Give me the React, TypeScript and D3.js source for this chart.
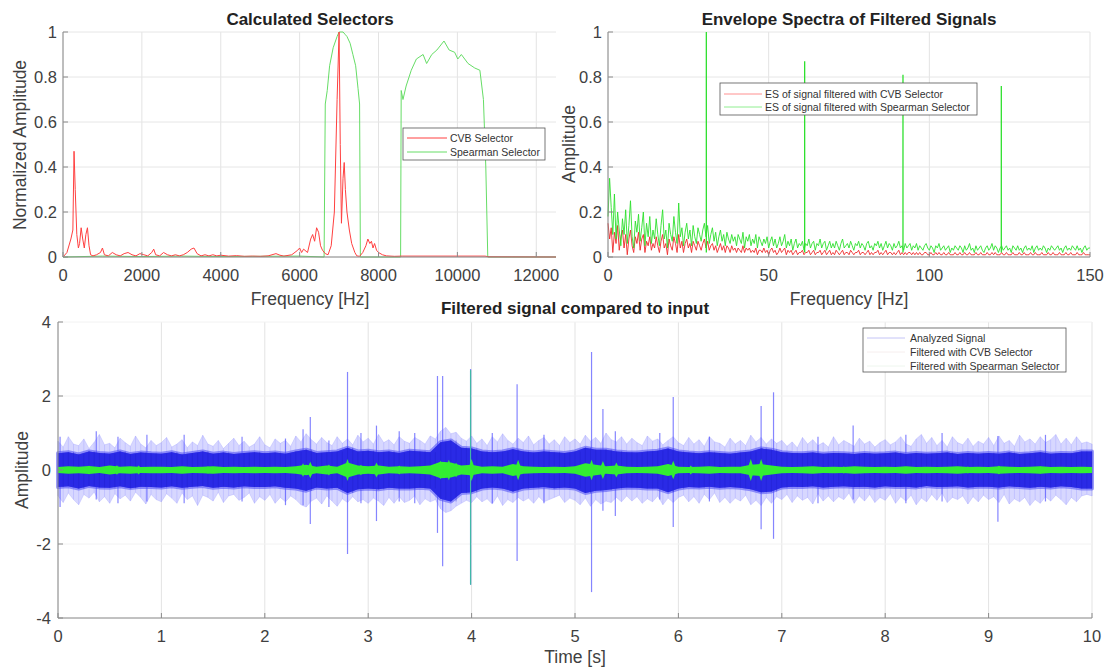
import React from "react";
import * as d3 from "d3";

const W = 1108;
const H = 672;
const font = "'Liberation Sans', Arial, Helvetica, sans-serif";

/* ---------- Calculated Selectors ---------- */
const selFreqTicks = [0, 2000, 4000, 6000, 8000, 10000, 12000];
const selAmpTicks = [0, 0.2, 0.4, 0.6, 0.8, 1];

const cvbSelector: [number, number][] = [
  [0, 0], [100, 0.02], [200, 0.08], [250, 0.12], [280, 0.47], [310, 0.3], [350, 0.1], [390, 0.04],
  [420, 0.06], [460, 0.13], [500, 0.08], [540, 0.04], [580, 0.1], [620, 0.13], [660, 0.05], [700, 0.01],
  [760, 0.005], [850, 0.01], [950, 0.02], [1000, 0.04], [1050, 0.01], [1150, 0.005], [1250, 0.02],
  [1350, 0.01], [1450, 0.005], [1550, 0.015], [1650, 0.02], [1750, 0.01], [1850, 0.005], [1950, 0.015],
  [2050, 0.01], [2150, 0.005], [2250, 0.02], [2300, 0.035], [2350, 0.01], [2450, 0.005], [2550, 0.02],
  [2650, 0.01], [2750, 0.005], [2850, 0.01], [2950, 0.005], [3050, 0.01], [3150, 0.02], [3250, 0.035],
  [3320, 0.04], [3400, 0.015], [3500, 0.005], [3600, 0.01], [3700, 0.005], [3800, 0.01], [3900, 0.005],
  [4000, 0.008], [4200, 0.004], [4400, 0.006], [4600, 0.003], [4800, 0.004], [5000, 0.003], [5200, 0.005],
  [5400, 0.015], [5500, 0.008], [5600, 0.004], [5800, 0.01], [5950, 0.03], [6000, 0.04], [6050, 0.02],
  [6100, 0.035], [6200, 0.02], [6280, 0.08], [6330, 0.1], [6380, 0.07], [6430, 0.13], [6480, 0.11],
  [6530, 0.05], [6580, 0.03], [6650, 0.015], [6720, 0.01], [6800, 0.05], [6880, 0.2], [6950, 0.7],
  [7000, 1.0], [7030, 0.5], [7060, 0.15], [7100, 0.35], [7130, 0.42], [7160, 0.3], [7200, 0.2],
  [7260, 0.12], [7320, 0.06], [7400, 0.02], [7450, 0.005], [7520, 0.003], [7600, 0.02], [7680, 0.05],
  [7730, 0.08], [7780, 0.06], [7820, 0.07], [7860, 0.04], [7900, 0.06], [7950, 0.03], [8000, 0.02],
  [8100, 0.01], [8200, 0.005], [8400, 0.003], [8600, 0.004], [10700, 0.004], [10800, 0.001], [12500, 0],
];

const spearmanSelector: [number, number][] = [
  [0, 0], [1000, 0.004], [2000, 0.002], [3000, 0.004], [4000, 0.002], [5000, 0.003], [6000, 0.004],
  [6620, 0], [6650, 0.68], [6700, 0.74], [6760, 0.85], [6850, 0.93], [6950, 0.98], [7000, 1.0],
  [7100, 1.0], [7150, 0.99], [7200, 0.98], [7280, 0.95], [7350, 0.9], [7420, 0.85], [7480, 0.75],
  [7520, 0.68], [7540, 0], [8560, 0], [8575, 0.74], [8620, 0.7], [8700, 0.76], [8830, 0.83],
  [8960, 0.88], [9130, 0.9], [9220, 0.86], [9350, 0.9], [9480, 0.92], [9660, 0.96], [9790, 0.92],
  [9930, 0.91], [10010, 0.88], [10100, 0.9], [10270, 0.86], [10440, 0.84], [10570, 0.83],
  [10660, 0.7], [10720, 0.4], [10770, 0], [12500, 0],
];

/* ---------- Envelope Spectra ---------- */
const esFreqTicks = [0, 50, 100, 150];
const esAmpTicks = [0, 0.2, 0.4, 0.6, 0.8, 1];
const esStep = 0.5; // Hz per value
const esSpearman = [
  0.18, 0.35, 0.22, 0.1, 0.28, 0.08, 0.2, 0.12, 0.05, 0.17,
  0.1, 0.21, 0.06, 0.14, 0.25, 0.09, 0.04, 0.16, 0.11, 0.19,
  0.07, 0.13, 0.2, 0.05, 0.15, 0.09, 0.18, 0.06, 0.12, 0.08,
  0.17, 0.1, 0.05, 0.14, 0.21, 0.08, 0.12, 0.04, 0.15, 0.1,
  0.07, 0.18, 0.11, 0.06, 0.24, 0.09, 0.13, 0.05, 0.11, 0.15,
  0.08, 0.12, 0.05, 0.14, 0.09, 0.06, 0.13, 0.1, 0.07, 0.12,
  0.15, 0.09, 0.14, 0.06, 0.1, 0.13, 0.07, 0.11, 0.05, 0.09,
  0.12, 0.07, 0.1, 0.05, 0.11, 0.08, 0.06, 0.1, 0.07, 0.09,
  0.05, 0.1, 0.08, 0.06, 0.11, 0.04, 0.09, 0.07, 0.1, 0.05,
  0.08, 0.06, 0.1, 0.04, 0.09, 0.07, 0.05, 0.08, 0.06, 0.09,
  0.04, 0.07, 0.09, 0.05, 0.08, 0.04, 0.06, 0.09, 0.05, 0.07,
  0.1, 0.04, 0.07, 0.05, 0.08, 0.03, 0.06, 0.08, 0.04, 0.06,
  0.05, 0.07, 0.03, 0.06, 0.05, 0.08, 0.04, 0.06, 0.07, 0.03,
  0.06, 0.05, 0.08, 0.04, 0.06, 0.07, 0.03, 0.05, 0.07, 0.04,
  0.06, 0.04, 0.07, 0.05, 0.03, 0.06, 0.08, 0.04, 0.05, 0.06,
  0.04, 0.07, 0.05, 0.03, 0.06, 0.05, 0.07, 0.04, 0.06, 0.05,
  0.03, 0.06, 0.07, 0.04, 0.05, 0.03, 0.06, 0.05, 0.07, 0.04,
  0.06, 0.03, 0.05, 0.07, 0.04, 0.06, 0.05, 0.03, 0.06, 0.04,
  0.05, 0.07, 0.04, 0.05, 0.03, 0.06, 0.04, 0.05, 0.06, 0.03,
  0.05, 0.04, 0.06, 0.03, 0.05, 0.04, 0.03, 0.05, 0.06, 0.04,
  0.03, 0.05, 0.04, 0.02, 0.05, 0.04, 0.06, 0.03, 0.04, 0.05,
  0.03, 0.04, 0.05, 0.02, 0.04, 0.03, 0.05, 0.04, 0.03, 0.05,
  0.04, 0.02, 0.05, 0.03, 0.04, 0.06, 0.03, 0.04, 0.02, 0.05,
  0.03, 0.04, 0.05, 0.03, 0.02, 0.04, 0.05, 0.03, 0.04, 0.06,
  0.03, 0.05, 0.04, 0.02, 0.04, 0.05, 0.03, 0.04, 0.05, 0.03,
  0.04, 0.02, 0.05, 0.04, 0.03, 0.05, 0.03, 0.04, 0.02, 0.04,
  0.05, 0.03, 0.04, 0.03, 0.05, 0.02, 0.04, 0.05, 0.03, 0.04,
  0.03, 0.05, 0.04, 0.02, 0.04, 0.03, 0.05, 0.04, 0.03, 0.04,
  0.05, 0.03, 0.04, 0.02, 0.04, 0.05, 0.03, 0.04, 0.03, 0.05,
  0.04, 0.03, 0.05, 0.03, 0.04, 0.02, 0.04, 0.05, 0.03, 0.04,
  0.04,
];
const esCvb = [
  0.15, 0.08, 0.13, 0.02, 0.11, 0.06, 0.14, 0.03, 0.09, 0.12,
  0.04, 0.1, 0.01, 0.08, 0.12, 0.05, 0.02, 0.09, 0.06, 0.11,
  0.03, 0.08, 0.1, 0.02, 0.07, 0.05, 0.09, 0.03, 0.06, 0.04,
  0.09, 0.05, 0.02, 0.07, 0.1, 0.04, 0.06, 0.01, 0.08, 0.05,
  0.03, 0.09, 0.06, 0.02, 0.1, 0.04, 0.07, 0.02, 0.06, 0.08,
  0.04, 0.06, 0.02, 0.07, 0.05, 0.03, 0.07, 0.05, 0.03, 0.06,
  0.08, 0.04, 0.07, 0.03, 0.05, 0.06, 0.03, 0.05, 0.02, 0.04,
  0.06, 0.03, 0.05, 0.02, 0.05, 0.04, 0.02, 0.05, 0.03, 0.04,
  0.02, 0.04, 0.03, 0.02, 0.05, 0.02, 0.04, 0.03, 0.04, 0.02,
  0.03, 0.02, 0.04, 0.01, 0.03, 0.03, 0.02, 0.04, 0.02, 0.03,
  0.01, 0.03, 0.04, 0.02, 0.03, 0.01, 0.02, 0.04, 0.02, 0.03,
  0.04, 0.01, 0.03, 0.02, 0.03, 0.01, 0.02, 0.03, 0.01, 0.02,
  0.02, 0.03, 0.01, 0.02, 0.02, 0.03, 0.01, 0.02, 0.03, 0.01,
  0.02, 0.02, 0.03, 0.01, 0.02, 0.03, 0.01, 0.02, 0.03, 0.01,
  0.02, 0.01, 0.03, 0.02, 0.01, 0.02, 0.03, 0.01, 0.02, 0.02,
  0.01, 0.03, 0.02, 0.01, 0.02, 0.02, 0.03, 0.01, 0.02, 0.02,
  0.01, 0.02, 0.03, 0.01, 0.02, 0.01, 0.02, 0.02, 0.03, 0.01,
  0.02, 0.01, 0.02, 0.03, 0.01, 0.02, 0.02, 0.01, 0.02, 0.01,
  0.02, 0.03, 0.01, 0.02, 0.01, 0.02, 0.01, 0.02, 0.02, 0.01,
  0.02, 0.01, 0.02, 0.01, 0.02, 0.01, 0.01, 0.02, 0.02, 0.01,
  0.01, 0.02, 0.01, 0.01, 0.02, 0.01, 0.02, 0.01, 0.01, 0.02,
  0.01, 0.01, 0.02, 0.01, 0.01, 0.01, 0.02, 0.01, 0.01, 0.02,
  0.01, 0.01, 0.02, 0.01, 0.01, 0.02, 0.01, 0.01, 0.01, 0.02,
  0.01, 0.01, 0.02, 0.01, 0.01, 0.01, 0.02, 0.01, 0.01, 0.02,
  0.01, 0.02, 0.01, 0.01, 0.01, 0.02, 0.01, 0.01, 0.02, 0.01,
  0.01, 0.01, 0.02, 0.01, 0.01, 0.01, 0.02, 0.01, 0.01, 0.02,
  0.01, 0.01, 0.01, 0.02, 0.01, 0.01, 0.02, 0.01, 0.01, 0.01,
  0.02, 0.01, 0.01, 0.01, 0.02, 0.01, 0.01, 0.02, 0.01, 0.01,
  0.01, 0.02, 0.01, 0.01, 0.01, 0.02, 0.01, 0.01, 0.02, 0.01,
  0.01, 0.01, 0.02, 0.01, 0.01, 0.01, 0.02, 0.01, 0.01, 0.01,
  0.01,
];
const esSpikes: [number, number][] = [[30.6, 1.0], [61.2, 0.87], [91.8, 0.81], [122.4, 0.76]];

/* ---------- Filtered signal compared to input ---------- */
const timeTicks = [0, 1, 2, 3, 4, 5, 6, 7, 8, 9, 10];
const sigTicks = [-4, -2, 0, 2, 4];
const outerStep = 0.05; // s per value
const sigOuterHi = [
  0.78, 0.62, 0.9, 0.7, 0.66, 0.84, 0.58, 0.75, 0.96, 0.68, 0.72, 0.6, 0.86, 0.74, 0.64, 0.92, 0.7, 0.6, 0.8, 0.66,
  0.74, 0.88, 0.62, 0.7, 0.82, 0.6, 0.76, 0.66, 0.94, 0.7, 0.64, 0.8, 0.58, 0.72, 0.86, 0.66, 0.78, 0.62, 0.7, 0.9,
  0.68, 0.6, 0.84, 0.72, 0.8, 0.64, 0.92, 0.76, 0.98, 0.82, 0.7, 0.88, 0.74, 0.66, 0.9, 0.72, 0.84, 0.68, 0.94, 0.76,
  0.86, 0.7, 0.96, 0.74, 0.82, 0.68, 0.9, 0.78, 0.72, 0.88, 0.8, 0.7, 0.92, 0.84, 1.05, 1.15, 0.98, 1.02, 0.86, 0.78,
  0.92, 0.72, 0.84, 0.66, 0.9, 0.76, 0.98, 0.8, 0.7, 0.86, 0.74, 0.92, 0.68, 0.8, 0.88, 0.7, 0.82, 0.66, 0.9, 0.74,
  0.84, 0.7, 0.94, 0.78, 0.88, 0.72, 1.0, 0.82, 0.76, 0.9, 0.7, 0.86, 0.74, 0.66, 0.92, 0.78, 0.84, 0.68, 0.8, 0.9,
  0.74, 0.66, 0.88, 0.7, 0.82, 0.64, 0.9, 0.76, 0.72, 0.62, 0.86, 0.7, 0.8, 0.66, 0.94, 0.76, 0.88, 0.7, 0.84, 0.72,
  0.8, 0.64, 0.76, 0.6, 0.88, 0.7, 0.82, 0.66, 0.74, 0.62, 0.9, 0.68, 0.8, 0.72, 0.64, 0.86, 0.7, 0.78, 0.62, 0.74,
  0.82, 0.68, 0.76, 0.9, 0.7, 0.64, 0.84, 0.96, 0.72, 0.88, 0.66, 0.8, 0.62, 0.9, 0.74, 0.68, 0.86, 0.64, 0.78, 0.7,
  0.88, 0.66, 0.92, 0.72, 0.8, 0.64, 0.94, 0.76, 0.84, 0.7, 0.9, 0.74, 0.82, 0.96, 0.7, 0.86, 0.68, 0.9, 0.72, 0.76,
  0.7,
];
const sigOuterLo = [
  -0.7, -0.88, -0.62, -0.8, -0.94, -0.66, -0.76, -0.6, -0.86, -0.72, -0.9, -0.64, -0.78, -0.68, -0.84, -0.6, -0.74, -0.92, -0.66, -0.8,
  -0.86, -0.64, -0.76, -0.9, -0.62, -0.8, -0.7, -0.96, -0.68, -0.74, -0.84, -0.6, -0.88, -0.7, -0.66, -0.82, -0.74, -0.62, -0.9, -0.72,
  -0.82, -0.66, -0.9, -0.74, -0.86, -0.7, -0.8, -0.94, -1.0, -0.84, -0.76, -0.92, -0.7, -0.84, -0.98, -0.78, -0.88, -0.72, -0.86, -0.8,
  -0.9, -0.76, -0.84, -0.96, -0.74, -0.9, -0.72, -0.88, -0.82, -0.7, -0.94, -0.78, -0.86, -0.8, -1.05, -1.15, -1.1, -0.98, -0.9, -0.82,
  -0.88, -0.72, -0.86, -0.78, -0.92, -0.7, -0.96, -0.8, -0.88, -0.74, -0.84, -0.76, -0.9, -0.72, -0.86, -0.8, -0.74, -0.68, -0.88, -0.76,
  -0.82, -0.94, -0.76, -0.98, -0.8, -0.92, -0.84, -0.88, -0.74, -0.86, -0.7, -0.84, -0.72, -0.9, -0.78, -0.86, -0.7, -0.94, -0.76, -0.88,
  -0.74, -0.68, -0.86, -0.72, -0.9, -0.66, -0.8, -0.62, -0.88, -0.74, -0.9, -0.76, -0.84, -0.68, -0.94, -0.82, -0.96, -0.74, -0.9, -0.72,
  -0.8, -0.66, -0.88, -0.7, -0.82, -0.74, -0.92, -0.64, -0.84, -0.7, -0.86, -0.72, -0.8, -0.62, -0.9, -0.7, -0.84, -0.66, -0.88, -0.74,
  -0.82, -0.64, -0.9, -0.72, -0.84, -0.68, -0.94, -0.76, -0.86, -0.66, -0.82, -0.62, -0.88, -0.74, -0.8, -0.7, -0.92, -0.72, -0.86, -0.68,
  -0.8, -0.72, -0.88, -0.66, -0.92, -0.78, -0.86, -0.74, -0.96, -0.8, -0.9, -0.72, -0.84, -0.68, -0.8, -0.94, -0.74, -0.86, -0.7, -0.66,
  -0.7,
];
const coreStep = 0.1; // s per value
const sigCoreHi = [
  0.45, 0.48, 0.42, 0.5, 0.46, 0.44, 0.5, 0.43, 0.47, 0.45,
  0.44, 0.48, 0.42, 0.46, 0.5, 0.44, 0.47, 0.43, 0.46, 0.48,
  0.45, 0.47, 0.44, 0.5, 0.55, 0.46, 0.48, 0.5, 0.6, 0.5,
  0.52, 0.48, 0.5, 0.46, 0.52, 0.5, 0.48, 0.75, 0.8, 0.6,
  0.58, 0.5, 0.48, 0.5, 0.56, 0.5, 0.47, 0.5, 0.48, 0.46,
  0.5, 0.6, 0.55, 0.55, 0.5, 0.48, 0.47, 0.5, 0.52, 0.58,
  0.5, 0.47, 0.45, 0.48, 0.46, 0.44, 0.47, 0.5, 0.58, 0.55,
  0.48, 0.46, 0.45, 0.47, 0.44, 0.46, 0.45, 0.43, 0.46, 0.44,
  0.45, 0.47, 0.43, 0.46, 0.44, 0.45, 0.47, 0.43, 0.46, 0.44,
  0.46, 0.44, 0.47, 0.43, 0.45, 0.48, 0.44, 0.46, 0.45, 0.5,
  0.5,
];
const sigCoreLo = [
  -0.46, -0.44, -0.5, -0.43, -0.47, -0.48, -0.44, -0.49, -0.45, -0.46,
  -0.47, -0.44, -0.48, -0.45, -0.43, -0.48, -0.45, -0.47, -0.44, -0.46,
  -0.46, -0.44, -0.48, -0.5, -0.56, -0.47, -0.5, -0.48, -0.62, -0.52,
  -0.5, -0.52, -0.48, -0.5, -0.5, -0.48, -0.5, -0.78, -0.85, -0.62,
  -0.6, -0.5, -0.47, -0.5, -0.58, -0.5, -0.48, -0.46, -0.49, -0.47,
  -0.5, -0.62, -0.56, -0.54, -0.5, -0.47, -0.48, -0.5, -0.5, -0.6,
  -0.5, -0.46, -0.47, -0.45, -0.48, -0.46, -0.48, -0.52, -0.6, -0.58,
  -0.47, -0.45, -0.46, -0.44, -0.47, -0.45, -0.44, -0.46, -0.45, -0.47,
  -0.44, -0.46, -0.45, -0.47, -0.43, -0.46, -0.45, -0.44, -0.47, -0.45,
  -0.45, -0.47, -0.44, -0.46, -0.48, -0.45, -0.47, -0.44, -0.46, -0.5,
  -0.5,
];
// [time, top, bottom]
const sigSpikes: [number, number, number][] = [
  [0.02, 0.9, -1.0], [0.37, 1.05, -0.8], [0.58, 0.9, -0.9], [0.86, 0.95, -0.85], [1.22, 0.95, -0.9],
  [1.78, 0.9, -0.85], [2.2, 0.85, -0.95], [2.37, 1.1, -0.95], [2.44, 1.43, -1.46], [2.62, 0.8, -1.0],
  [2.8, 2.65, -2.27], [2.93, 1.0, -0.9], [3.08, 1.2, -1.38], [3.3, 1.05, -0.85], [3.45, 1.0, -0.9],
  [3.67, 2.54, -1.7], [3.72, 2.54, -2.6], [3.99, 2.73, -3.1], [4.2, 1.0, -0.9], [4.44, 2.32, -2.46],
  [4.7, 0.95, -0.9], [5.16, 3.19, -3.3], [5.27, 1.65, -1.1], [5.39, 1.05, -1.24], [5.82, 1.0, -0.8],
  [5.95, 1.97, -1.54], [6.3, 0.9, -0.85], [6.8, 1.73, -1.6], [6.92, 2.1, -1.86], [7.35, 0.9, -0.9],
  [7.69, 1.2, -0.8], [8.2, 0.95, -0.9], [8.55, 1.0, -0.85], [9.09, 0.92, -1.4], [9.55, 0.95, -0.85],
];
const greenEnv = [
  0.08, 0.1, 0.09, 0.11, 0.08, 0.12, 0.09, 0.1, 0.08, 0.09,
  0.09, 0.08, 0.1, 0.08, 0.09, 0.1, 0.08, 0.09, 0.08, 0.09,
  0.08, 0.09, 0.08, 0.1, 0.14, 0.09, 0.12, 0.09, 0.2, 0.12,
  0.1, 0.12, 0.09, 0.1, 0.09, 0.1, 0.12, 0.22, 0.2, 0.12,
  0.14, 0.09, 0.1, 0.09, 0.16, 0.1, 0.09, 0.08, 0.09, 0.08,
  0.1, 0.18, 0.14, 0.1, 0.12, 0.09, 0.08, 0.09, 0.1, 0.16,
  0.09, 0.08, 0.09, 0.1, 0.08, 0.09, 0.09, 0.14, 0.16, 0.12,
  0.09, 0.08, 0.09, 0.1, 0.08, 0.09, 0.08, 0.1, 0.09, 0.08,
  0.09, 0.08, 0.1, 0.08, 0.09, 0.08, 0.09, 0.1, 0.08, 0.09,
  0.08, 0.1, 0.09, 0.08, 0.09, 0.1, 0.08, 0.09, 0.08, 0.09,
  0.08,
];
// [time, half height]
const greenBumps: [number, number][] = [
  [0.3, 0.12], [0.57, 0.13], [0.78, 0.12], [1.45, 0.1], [2.37, 0.18], [2.44, 0.22], [2.62, 0.15],
  [2.8, 0.3], [2.93, 0.14], [3.08, 0.2], [3.3, 0.12], [3.7, 0.25], [3.78, 0.28], [3.85, 0.2], [4.0, 0.3],
  [4.45, 0.28], [5.16, 0.28], [5.27, 0.24], [5.4, 0.2], [5.95, 0.25], [6.12, 0.12], [6.7, 0.3],
  [6.8, 0.3], [7.6, 0.1], [8.8, 0.1], [9.1, 0.12], [9.5, 0.1],
];
const greenSpikes: [number, number, number][] = [[3.99, 2.7, -3.1]];

const fmt = (d: number) => String(d);

function AxesFrame({ x, y, xTicks, yTicks, hGrid = "#e6e6e6" }: any) {
  const [x0, x1] = x.range();
  const [y1, y0] = y.range();
  return (
    <g>
      {xTicks.map((t: number) => (
        <line key={"gx" + t} x1={x(t)} x2={x(t)} y1={y0} y2={y1} stroke="#e3e3e3" />
      ))}
      {yTicks.map((t: number) => (
        <line key={"gy" + t} x1={x0} x2={x1} y1={y(t)} y2={y(t)} stroke={hGrid} />
      ))}
    </g>
  );
}

function AxesTicks({ x, y, xTicks, yTicks, yLabelOffset = 6 }: any) {
  const [x0, x1] = x.range();
  const [y1, y0] = y.range();
  return (
    <g fontFamily={font} fill="#404040">
      <line x1={x0} x2={x1} y1={y1} y2={y1} stroke="#8a8a8a" />
      <line x1={x0} x2={x0} y1={y0} y2={y1} stroke="#8a8a8a" />
      {xTicks.map((t: number) => (
        <g key={"tx" + t}>
          <line x1={x(t)} x2={x(t)} y1={y1} y2={y1 - 5} stroke="#8a8a8a" />
          <text x={x(t)} y={y1 + 24} fontSize={16.5} textAnchor="middle">{fmt(t)}</text>
        </g>
      ))}
      {yTicks.map((t: number) => (
        <g key={"ty" + t}>
          <line x1={x0} x2={x0 + 5} y1={y(t)} y2={y(t)} stroke="#8a8a8a" />
          <text x={x0 - yLabelOffset} y={y(t) + 6} fontSize={16.5} textAnchor="end">{fmt(t)}</text>
        </g>
      ))}
    </g>
  );
}

export default function App() {
  const xSel = d3.scaleLinear().domain([0, 12500]).range([63, 556]);
  const ySel = d3.scaleLinear().domain([0, 1]).range([257, 32]);
  const xEs = d3.scaleLinear().domain([0, 150]).range([608, 1090]);
  const yEs = d3.scaleLinear().domain([0, 1]).range([257, 32]);
  const xT = d3.scaleLinear().domain([0, 10]).range([58, 1092]);
  const yT = d3.scaleLinear().domain([-4, 4]).range([618, 322]);

  const selLine = d3.line<[number, number]>().x((d) => xSel(d[0])).y((d) => ySel(d[1]));
  const esLine = d3.line<number>().x((_, i) => xEs(i * esStep)).y((d) => yEs(d));

  const outerArea = d3
    .area<number>()
    .x((_, i) => xT(i * outerStep))
    .y0((_, i) => yT(sigOuterLo[i]))
    .y1((d) => yT(d));
  const coreArea = d3
    .area<number>()
    .x((_, i) => xT(i * coreStep))
    .y0((_, i) => yT(sigCoreLo[i]))
    .y1((d) => yT(d));
  const greenArea = d3
    .area<number>()
    .x((_, i) => xT(i * coreStep))
    .y0((d) => yT(-d))
    .y1((d) => yT(d));

  return (
    <svg width={W} height={H} style={{ position: "absolute", left: 0, top: 0, background: "#fff" }}>
      <rect width={W} height={H} fill="#fff" />

      {/* ---- Calculated Selectors ---- */}
      <AxesFrame x={xSel} y={ySel} xTicks={selFreqTicks} yTicks={selAmpTicks} />
      <path d={selLine(spearmanSelector) || ""} fill="none" stroke="#66dd66" strokeWidth={1} />
      <path d={selLine(cvbSelector) || ""} fill="none" stroke="#ff4040" strokeWidth={1} />
      <AxesTicks x={xSel} y={ySel} xTicks={selFreqTicks} yTicks={selAmpTicks} />
      <text x={310} y={25} fontFamily={font} fontSize={17} fontWeight="bold" textAnchor="middle" fill="#222">
        Calculated Selectors
      </text>
      <text x={310} y={305} fontFamily={font} fontSize={17.5} textAnchor="middle" fill="#404040">
        Frequency [Hz]
      </text>
      <text transform="translate(26,145) rotate(-90)" fontFamily={font} fontSize={17.5} textAnchor="middle" fill="#404040">
        Normalized Amplitude
      </text>
      <g fontFamily={font} fontSize={10.5} fill="#333">
        <rect x={403} y={128} width={142} height={32} fill="#fff" stroke="#555" strokeWidth={0.8} />
        <line x1={407} x2={447} y1={138} y2={138} stroke="#ff4040" />
        <text x={450} y={142}>CVB Selector</text>
        <line x1={407} x2={447} y1={152} y2={152} stroke="#66dd66" />
        <text x={450} y={156}>Spearman Selector</text>
      </g>

      {/* ---- Envelope Spectra ---- */}
      <AxesFrame x={xEs} y={yEs} xTicks={esFreqTicks} yTicks={esAmpTicks} />
      <path d={esLine(esCvb) || ""} fill="none" stroke="#ee2a2a" strokeWidth={0.9} />
      <path d={esLine(esSpearman) || ""} fill="none" stroke="#2ee02e" strokeWidth={0.9} />
      {esSpikes.map(([f, p]) => (
        <line key={f} x1={xEs(f)} x2={xEs(f)} y1={yEs(0.02)} y2={yEs(p)} stroke="#2ee02e" strokeWidth={1.3} />
      ))}
      <AxesTicks x={xEs} y={yEs} xTicks={esFreqTicks} yTicks={esAmpTicks} />
      <text x={849} y={25} fontFamily={font} fontSize={17} fontWeight="bold" textAnchor="middle" fill="#222">
        Envelope Spectra of Filtered Signals
      </text>
      <text x={849} y={305} fontFamily={font} fontSize={17.5} textAnchor="middle" fill="#404040">
        Frequency [Hz]
      </text>
      <text transform="translate(575,144) rotate(-90)" fontFamily={font} fontSize={17.5} textAnchor="middle" fill="#404040">
        Amplitude
      </text>
      <g fontFamily={font} fontSize={10.5} fill="#333">
        <rect x={720} y={83} width={257} height={32} fill="#fff" stroke="#555" strokeWidth={0.8} />
        <line x1={724} x2={762} y1={94} y2={94} stroke="#ff9090" />
        <text x={765} y={98}>ES of signal filtered with CVB Selector</text>
        <line x1={724} x2={762} y1={107} y2={107} stroke="#90ee90" />
        <text x={765} y={111}>ES of signal filtered with Spearman Selector</text>
      </g>

      {/* ---- Filtered signal compared to input ---- */}
      <AxesFrame x={xT} y={yT} xTicks={timeTicks} yTicks={sigTicks} hGrid="#f2f2f2" />
      <path d={outerArea(sigOuterHi) || ""} fill="#b0b0ff" fillOpacity={0.5} stroke="#9a9aff" strokeOpacity={0.5} strokeWidth={0.6} />
      {sigOuterHi.map((v, i) => (
        <line key={"h" + i} x1={xT(i * outerStep)} x2={xT(i * outerStep)} y1={yT(v)} y2={yT(sigOuterLo[i])} stroke="#7a7aff" strokeOpacity={0.28} strokeWidth={0.8} />
      ))}
      {sigSpikes.map(([t, hi, lo]) => (
        <line key={"s" + t} x1={xT(t)} x2={xT(t)} y1={yT(hi)} y2={yT(lo)} stroke="#5c5cff" strokeWidth={1.2} strokeOpacity={0.75} />
      ))}
      <path d={coreArea(sigCoreHi) || ""} fill="#4444f2" stroke="#4a4af4" strokeOpacity={0.55} strokeWidth={4} strokeLinejoin="round" />
      <path d={coreArea(sigCoreHi) || ""} fill="#2a2ae6" />
      {sigOuterHi.map((v, i) => (
        <line key={"c" + i} x1={xT(i * outerStep)} x2={xT(i * outerStep)} y1={yT(sigCoreHi[Math.floor(i / 2)])} y2={yT(sigCoreLo[Math.floor(i / 2)])} stroke="#1c1cc8" strokeOpacity={0.35} strokeWidth={1} />
      ))}
      {greenSpikes.map(([t, hi, lo]) => (
        <line key={"g" + t} x1={xT(t)} x2={xT(t)} y1={yT(hi)} y2={yT(lo)} stroke="#40b8a8" strokeWidth={1.2} />
      ))}
      <path d={greenArea(greenEnv) || ""} fill="#33ee33" />
      {greenBumps.map(([t, a]) => (
        <path
          key={"b" + t}
          d={`M${xT(t - 0.035)},${yT(0)}L${xT(t)},${yT(a)}L${xT(t + 0.035)},${yT(0)}L${xT(t)},${yT(-a)}Z`}
          fill="#33ee33"
        />
      ))}
      <AxesTicks x={xT} y={yT} xTicks={timeTicks} yTicks={sigTicks} yLabelOffset={7} />
      <text x={575} y={314} fontFamily={font} fontSize={17} fontWeight="bold" textAnchor="middle" fill="#222">
        Filtered signal compared to input
      </text>
      <text x={575} y={663} fontFamily={font} fontSize={17.5} textAnchor="middle" fill="#404040">
        Time [s]
      </text>
      <text transform="translate(28,470) rotate(-90)" fontFamily={font} fontSize={17.5} textAnchor="middle" fill="#404040">
        Amplitude
      </text>
      <g fontFamily={font} fontSize={10.5} fill="#333">
        <rect x={863} y={328} width={203} height={44} fill="#fff" stroke="#555" strokeWidth={0.8} />
        <line x1={867} x2={905} y1={338} y2={338} stroke="#c4c4f6" />
        <text x={910} y={342}>Analyzed Signal</text>
        <line x1={867} x2={905} y1={352} y2={352} stroke="#f6eeee" />
        <text x={910} y={356}>Filtered with CVB Selector</text>
        <line x1={867} x2={905} y1={366} y2={366} stroke="#eef6ee" />
        <text x={910} y={370}>Filtered with Spearman Selector</text>
      </g>
    </svg>
  );
}
